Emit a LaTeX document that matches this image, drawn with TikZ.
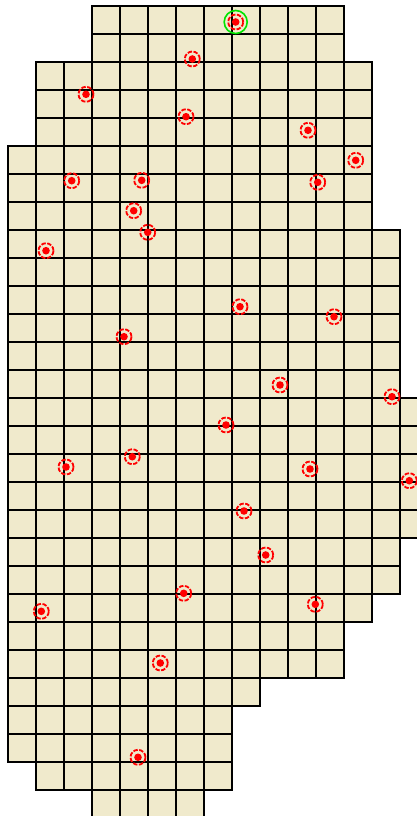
\documentclass[tikz,border=0pt]{standalone}
\begin{document}
\begin{tikzpicture}[x=1pt,y=-1pt,
  cellbox/.style={draw=black,fill=cellfill,line width=1.8pt},
  ringnode/.style={circle,draw=red,dash pattern=on 4.5pt off 1.5pt,line width=1.8pt,minimum size=15pt,inner sep=0pt},
  dotmark/.style={fill=red},
  greenring/.style={circle,draw=green!90!black,line width=1.6pt,minimum size=23pt,inner sep=0pt}]
\definecolor{cellfill}{RGB}{240,234,204}
\useasboundingbox (0,0) rectangle (417,816);
\clip (0,0) rectangle (417,816);
% grid cells: row / first column / last column
\foreach \r/\a/\b in {0/3/11,1/3/11,2/1/12,3/1/12,4/1/12,5/0/12,6/0/12,7/0/12,
  8/0/13,9/0/13,10/0/13,11/0/13,12/0/13,13/0/13,
  14/0/14,15/0/14,16/0/14,17/0/14,18/0/14,19/0/13,20/0/13,21/0/12,
  22/0/11,23/0/11,24/0/8,25/0/7,26/0/7,27/1/7,28/3/6}{
  \foreach \c in {\a,...,\b}{
    \draw[cellbox] ({8+28*\c},{6+28*\r}) rectangle ++(28,28);
  }
}
% green ring around the first target
\node[greenring] (g1) at (235.7,22) {};
% targets
\foreach \i/\x/\y in {1/235.7/22,2/192.3/59,3/86/94.3,4/186/116.7,5/308/130.3,
  6/355.7/160.3,7/71.7/180.7,8/141.7/180.3,9/317.7/182.3,10/133.7/210.7,
  11/147.7/232.3,12/46/250.7,13/240/306.7,14/334/316.7,15/124/336.7,
  16/280/385,17/392/396.7,18/226/425,19/132.3/456.7,20/66/467,21/310/469,
  22/409.3/480.7,23/244/511,24/265.7/555,25/183.7/593.3,26/315.3/604.3,
  27/41.3/611.3,28/160.3/663,29/138/757.3}{
  \node[ringnode] (m\i) at (\x,\y) {};
  \fill[dotmark] (m\i.center) circle (3.8);
}
\end{tikzpicture}
\end{document}
